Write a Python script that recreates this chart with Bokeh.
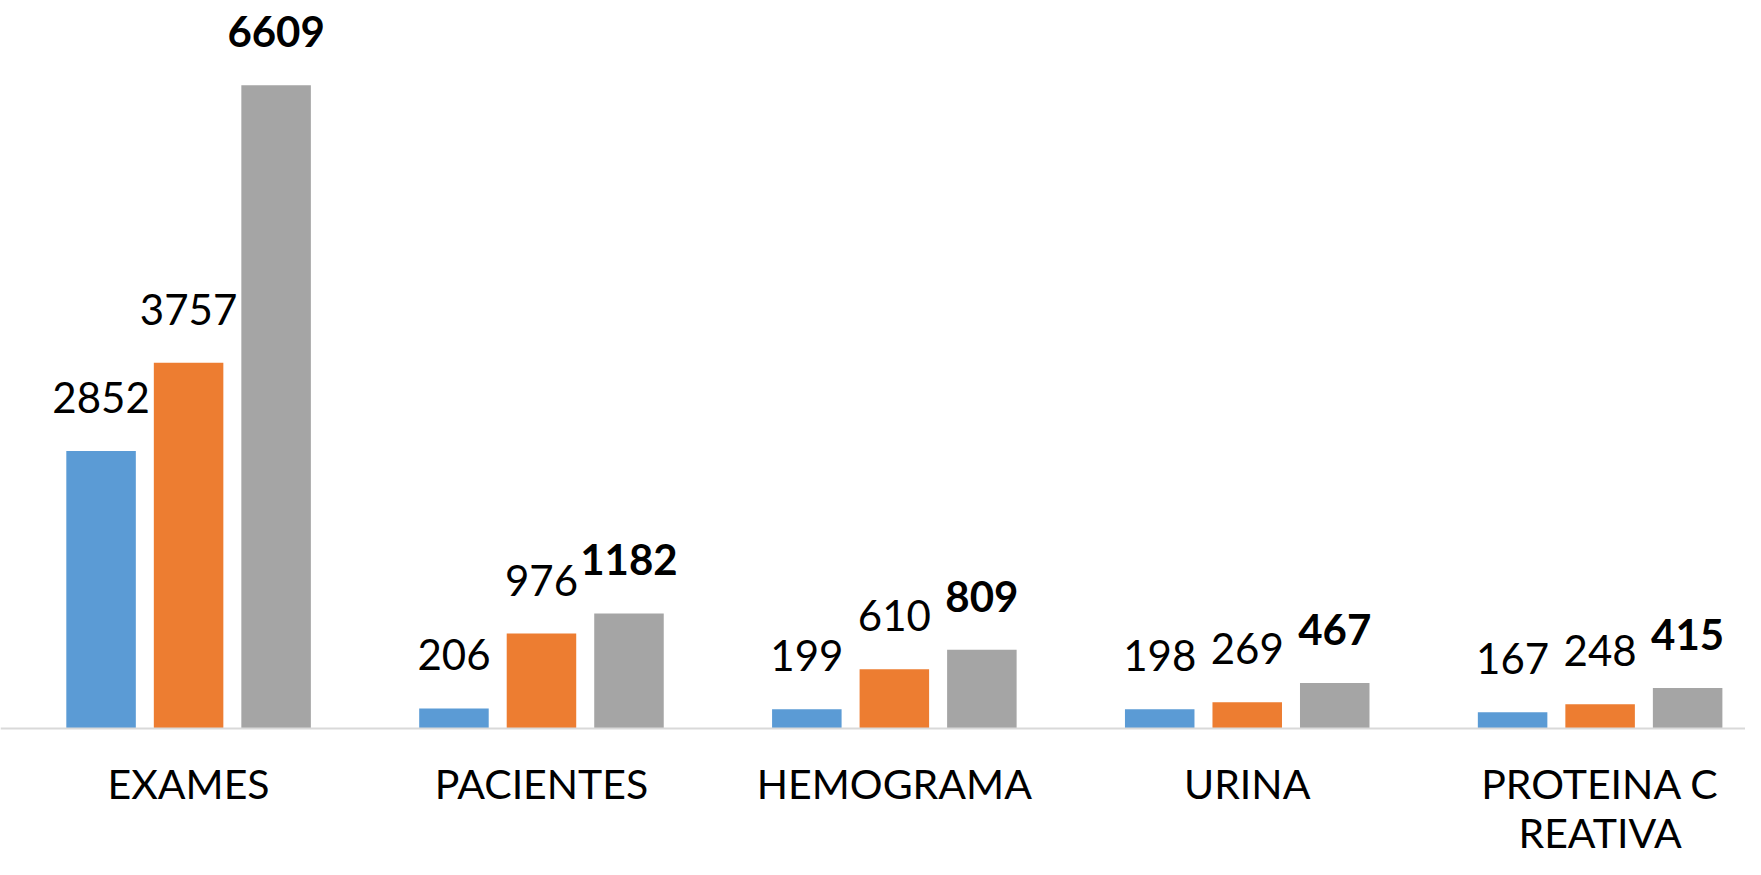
from bokeh.plotting import figure
from bokeh.models import ColumnDataSource, Range1d, FixedTicker, LabelSet
from bokeh.core.properties import value
from bokeh.transform import dodge
from bokeh.embed import file_html
from bokeh.resources import INLINE

categorias = ["EXAMES", "PACIENTES", "HEMOGRAMA", "URINA", "PROTEINA C\nREATIVA"]
serie_1 = [2852, 206, 199, 198, 167]
serie_2 = [3757, 976, 610, 269, 248]
serie_3 = [6609, 1182, 809, 467, 415]
cores = ["#5B9BD5", "#ED7D31", "#A5A5A5"]

FONT = "Lato"

pos = list(range(len(categorias)))
src = ColumnDataSource(dict(
    x=pos,
    s1=serie_1, s2=serie_2, s3=serie_3,
    t1=[str(v) for v in serie_1],
    t2=[str(v) for v in serie_2],
    t3=[str(v) for v in serie_3],
))

p = figure(width=1745, height=859,
           x_range=Range1d(-0.533, 4.412), y_range=Range1d(-1346, 7480),
           output_backend="svg", toolbar_location=None,
           y_axis_location=None, min_border=0,
           outline_line_color=None)
p.grid.visible = False

offs = [-0.248, 0.0, 0.248]
series = ["s1", "s2", "s3"]
texts = ["t1", "t2", "t3"]
for off, s, t, c in zip(offs, series, texts, cores):
    p.vbar(x=dodge("x", off, range=p.x_range), top=s, bottom=0, width=0.197,
           fill_color=c, line_color=None, source=src)
    lbl = LabelSet(x=dodge("x", off, range=p.x_range), y=s, text=t, source=src,
                   y_offset=38, text_align="center", text_baseline="alphabetic",
                   text_font=value(FONT), text_font_size="42px", text_color="#000000",
                   text_font_style="bold" if s == "s3" else "normal")
    p.add_layout(lbl)

ax = p.xaxis[0]
ax.fixed_location = 0
ax.ticker = FixedTicker(ticks=pos)
ax.major_label_overrides = {i: c for i, c in zip(pos, categorias)}
ax.major_tick_line_color = None
ax.minor_tick_line_color = None
ax.major_tick_out = 0
ax.major_tick_in = 0
ax.axis_line_color = "#D9D9D9"
ax.axis_line_width = 2
ax.major_label_standoff = 31
ax.major_label_text_font = FONT
ax.major_label_text_font_size = "41px"
ax.major_label_text_color = "#000000"
ax.major_label_text_line_height = 1.0

open("out.html", "w").write(file_html(p, INLINE))
